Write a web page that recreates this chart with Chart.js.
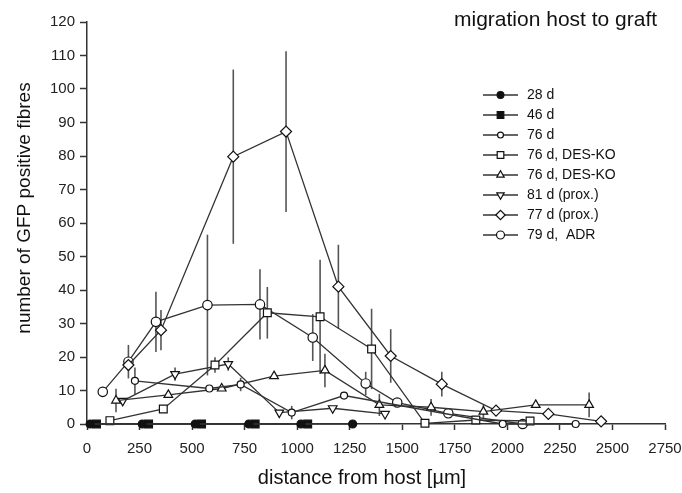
<!DOCTYPE html>
<html>
<head>
<meta charset="utf-8">
<script src="https://cdn.jsdelivr.net/npm/chart.js@4.4.0/dist/chart.umd.min.js"></script>
<style>
  html, body { margin: 0; padding: 0; background: #fff; }
</style>
</head>
<body>
<canvas id="chart" width="682" height="493"></canvas>
<script>
// values (distance in um, number of fibres, half error bar)
const xTicks = [0, 250, 500, 750, 1000, 1250, 1500, 1750, 2000, 2250, 2500, 2750];
const yTicks = [0, 10, 20, 30, 40, 50, 60, 70, 80, 90, 100, 110, 120];

const d28X = [15, 263, 515, 770, 1018, 1264];
const d28Y = [0, 0, 0, 0, 0, 0];

const d46X = [45, 293, 545, 800, 1050];
const d46Y = [0, 0, 0, 0, 0];

const d76X = [228, 582, 731, 974, 1223, 1978, 2325];
const d76Y = [12.9, 10.6, 11.8, 3.4, 8.5, 0, 0];
const d76Err = [4, 0, 2, 2, 0, 0, 0];

const desKoSqX = [109, 363, 609, 858, 1109, 1354, 1608, 1850, 2108];
const desKoSqY = [1.0, 4.5, 17.6, 33.2, 32, 22.4, 0.2, 1.2, 0.9];
const desKoSqErr = [0, 0, 2.3, 7.7, 17, 12, 0, 0, 0];

const desKoTriX = [138, 387, 641, 890, 1132, 1391, 1637, 1886, 2135, 2389];
const desKoTriY = [7.0, 8.7, 10.6, 14.3, 16, 5.7, 5.0, 3.7, 5.7, 5.7];
const desKoTriErr = [3.5, 0, 0, 0, 5, 3.3, 2.5, 2, 0, 3.7];

const d81X = [170, 419, 672, 915, 1169, 1418];
const d81Y = [6.9, 14.9, 17.9, 3.4, 4.7, 3.0];
const d81Err = [0, 2, 2, 0, 0, 0];

const d77X = [197, 352, 696, 947, 1196, 1445, 1688, 1946, 2195, 2446];
const d77Y = [17.6, 28, 79.8, 87.3, 41, 20.3, 11.9, 4.0, 3.0, 0.8];
const d77Err = [0, 6, 26, 24, 12.5, 8, 3.7, 0, 0, 0];

const adrX = [75, 197, 328, 573, 823, 1074, 1326, 1476, 1719, 2073];
const adrY = [9.6, 18.6, 30.5, 35.5, 35.7, 25.8, 12.1, 6.4, 3.2, 0];
const adrErr = [0, 5, 9, 21, 10.5, 7, 3.5, 0, 0, 0];

const FONT = "'Liberation Sans', Arial, sans-serif";

function pts(xs, ys) {
  return xs.map((x, i) => ({ x: x, y: ys[i] }));
}

function series(label, xs, ys, errs, style, radius, filled, rotation) {
  return {
    label: label,
    data: pts(xs, ys),
    errors: errs,
    borderColor: '#333',
    borderWidth: 1.3,
    pointStyle: style,
    pointRotation: rotation || 0,
    pointRadius: radius,
    pointBackgroundColor: filled ? '#111' : '#fff',
    pointBorderColor: '#111',
    pointBorderWidth: 1.2,
    tension: 0,
    clip: false
  };
}

const datasets = [
  series('28 d', d28X, d28Y, null, 'circle', 4, true),
  series('46 d', d46X, d46Y, null, 'rect', 5.5, true),
  series('76 d', d76X, d76Y, d76Err, 'circle', 3.5, false),
  series('76 d, DES-KO', desKoSqX, desKoSqY, desKoSqErr, 'rect', 5.5, false),
  series('76 d, DES-KO', desKoTriX, desKoTriY, desKoTriErr, 'triangle', 5, false),
  series('81 d (prox.)', d81X, d81Y, d81Err, 'triangle', 5, false, 180),
  series('77 d (prox.)', d77X, d77Y, d77Err, 'rectRot', 5.5, false),
  series('79 d,  ADR', adrX, adrY, adrErr, 'circle', 4.7, false)
];

// error bars, title, legend and axis titles
const extras = {
  id: 'extras',
  beforeDatasetsDraw(chart) {
    const ctx = chart.ctx;
    const xs = chart.scales.x, ys = chart.scales.y;
    ctx.save();
    ctx.strokeStyle = '#555';
    ctx.lineWidth = 1.6;
    chart.data.datasets.forEach(ds => {
      if (!ds.errors) return;
      ds.data.forEach((p, i) => {
        const e = ds.errors[i];
        if (!e) return;
        const px = xs.getPixelForValue(p.x);
        ctx.beginPath();
        ctx.moveTo(px, ys.getPixelForValue(p.y + e));
        ctx.lineTo(px, ys.getPixelForValue(Math.max(0, p.y - e)));
        ctx.stroke();
      });
    });
    ctx.restore();
  },
  afterDraw(chart) {
    const ctx = chart.ctx;
    ctx.save();
    ctx.fillStyle = '#111';
    ctx.textBaseline = 'middle';

    ctx.font = '21px ' + FONT;
    ctx.textAlign = 'left';
    ctx.fillText('migration host to graft', 454, 20);

    // legend
    ctx.font = '14px ' + FONT;
    chart.data.datasets.forEach((ds, i) => {
      const y = 95 + i * 20;
      ctx.strokeStyle = '#333';
      ctx.lineWidth = 1.3;
      ctx.beginPath();
      ctx.moveTo(483, y);
      ctx.lineTo(518, y);
      ctx.stroke();
      ctx.fillStyle = ds.pointBackgroundColor;
      ctx.strokeStyle = '#111';
      ctx.lineWidth = 1.2;
      Chart.helpers.drawPoint(ctx, {
        pointStyle: ds.pointStyle,
        rotation: ds.pointRotation,
        radius: ds.pointRadius * 0.85,
        borderWidth: 1.2
      }, 500.5, y);
      ctx.fillStyle = '#111';
      ctx.fillText(ds.label, 527, y);
    });

    // axis titles
    ctx.textAlign = 'center';
    ctx.font = '20px ' + FONT;
    ctx.fillText('distance from host [\u00b5m]', 362, 478);
    ctx.font = '19px ' + FONT;
    ctx.translate(25, 208);
    ctx.rotate(-Math.PI / 2);
    ctx.fillText('number of GFP positive fibres', 0, 0);
    ctx.restore();
  }
};

new Chart(document.getElementById('chart'), {
  type: 'line',
  data: { datasets: datasets },
  options: {
    responsive: false,
    animation: false,
    layout: { padding: { top: 22, right: 17, left: 0, bottom: 0 } },
    plugins: {
      legend: { display: false },
      tooltip: { enabled: false }
    },
    scales: {
      x: {
        type: 'linear',
        min: 0,
        max: 2750,
        afterBuildTicks: s => { s.ticks = xTicks.map(v => ({ value: v })); },
        afterFit: s => { s.height = 69; s.paddingRight = 0; s.paddingLeft = 0; },
        grid: { drawOnChartArea: false, tickLength: 6, color: '#333', tickWidth: 1.5 },
        border: { color: '#333', width: 1.5 },
        ticks: { color: '#222', font: { size: 15, family: FONT }, padding: 10, maxRotation: 0, callback: v => String(v) }
      },
      y: {
        min: 0,
        max: 120,
        afterBuildTicks: s => { s.ticks = yTicks.map(v => ({ value: v })); },
        afterFit: s => { s.width = 87; s.paddingTop = 0; s.paddingBottom = 0; },
        grid: { drawOnChartArea: false, tickLength: 7, color: '#333', tickWidth: 1.5 },
        border: { color: '#333', width: 1.5 },
        ticks: { color: '#222', font: { size: 15, family: FONT }, padding: 5, callback: v => String(v) }
      }
    }
  },
  plugins: [extras]
});
</script>
</body>
</html>
